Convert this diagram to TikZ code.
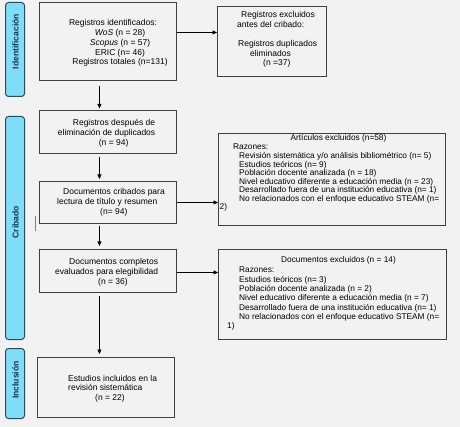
\documentclass[tikz,border=0pt]{standalone}
\usepackage{fontspec}
\setmainfont{Liberation Sans}
\usetikzlibrary{arrows.meta}
\definecolor{bg}{HTML}{F2F2F2}
\definecolor{barfill}{HTML}{80DDF8}
\definecolor{barline}{HTML}{2F4A5A}
\definecolor{bartext}{HTML}{1B3550}
\definecolor{boxline}{HTML}{404040}
\newcommand{\lft}[1]{\begin{tabular}[t]{@{}l@{}}#1\end{tabular}}
\newcommand{\ctr}[1]{\begin{tabular}[t]{@{}c@{}}#1\end{tabular}}
\begin{document}
\begin{tikzpicture}[x=1pt,y=-1pt,
  box/.style={draw=boxline,line width=0.9pt,fill=bg,inner sep=0pt,anchor=north west},
  bar/.style={draw=barline,line width=1pt,fill=barfill,rounded corners=3pt,inner sep=0pt,anchor=north west,minimum width=19pt},
  barlabel/.style={font=\fontsize{8.6}{10}\selectfont\bfseries,text=bartext,rotate=90,inner sep=0pt},
  ltxt/.style={font=\fontsize{8.5}{9.7}\selectfont,inner sep=0pt},
  rtxt/.style={font=\fontsize{8.3}{8.05}\selectfont,inner sep=0pt},
  rtxtb/.style={font=\fontsize{8.3}{9.3}\selectfont,inner sep=0pt},
  arr/.style={line width=0.8pt,-{Triangle[length=4.5pt,width=4pt]}}]
\path[use as bounding box,fill=bg] (0,0) rectangle (460,427);

% side bars
\node[bar,minimum height=94pt] (s1) at (5,2) {};
\node[barlabel] (l1) at (15.5,41.5) {Identificación};
\node[bar,minimum height=223pt] (s2) at (5,116) {};
\node[barlabel] (l2) at (15.5,222) {Cribado};
\node[bar,minimum height=70pt] (s3) at (5,348) {};
\node[barlabel] (l3) at (15.5,380) {Inclusión};

% stray mark
\coordinate (m1) at (35,216);
\coordinate (m2) at (35,231);
\draw[gray,line width=0.8pt] (m1) -- (m2);

% left boxes
\node[box,minimum width=137pt,minimum height=78pt] (b1) at (39,2) {};
\node[ltxt,anchor=base] (t1) at (120,26) {\ctr{Registros identificados:\kern14pt\\ \textit{WoS} (n = 28)\\ \textit{Scopus} (n = 57)\\ ERIC (n= 46)\\ Registros totales (n=131)}};

\node[box,minimum width=109pt,minimum height=70pt] (b2) at (217,6) {};
\node[ltxt,anchor=base west] (t2) at (237,18) {\renewcommand{\arraystretch}{0.98}\lft{\hspace{4pt}Registros excluidos\\ antes del cribado:\\ \\ \hspace{1pt}Registros duplicados\\ \hspace{13pt}eliminados\\ \hspace{26pt}(n =37)}};

\node[box,minimum width=137pt,minimum height=43pt] (b3) at (39,110) {};
\node[ltxt,anchor=base west] (t3) at (57.7,126) {\lft{\hspace{15pt}Registros después de\\ eliminación de duplicados\\ \hspace{41pt}(n = 94)}};

\node[box,minimum width=137pt,minimum height=42pt] (b4) at (39,181) {};
\node[ltxt,anchor=base west] (t4) at (57,195) {\renewcommand{\arraystretch}{1.03}\lft{\hspace{6pt}Documentos cribados para\\ lectura de título y resumen\\ \hspace{43pt}(n= 94)}};

\node[box,minimum width=137pt,minimum height=43pt] (b5) at (39,249) {};
\node[ltxt,anchor=base west] (t5) at (55,265) {\renewcommand{\arraystretch}{1.03}\lft{\hspace{14pt}Documentos completos\\ evaluados para elegibilidad\\ \hspace{43pt}(n = 36)}};

\node[box,minimum width=137pt,minimum height=60pt] (b6) at (37,357) {};
\node[ltxt,anchor=base west] (t6) at (68,381) {\renewcommand{\arraystretch}{0.98}\lft{Estudios incluidos en la\\ revisión sistemática\\ \hspace{27pt}(n = 22)}};

% right boxes
\node[box,minimum width=227pt,minimum height=92pt] (ea) at (218,133) {};
\node[rtxt,anchor=base] (eat) at (338.5,141) {Artículos excluidos (n=58)};
\node[rtxt,anchor=base west] (eab) at (219.5,150) {\lft{\hspace{13.5pt}Razones:\\
\hspace{19.5pt}Revisión sistemática y/o análisis bibliométrico (n= 5)\\
\hspace{19.5pt}Estudios teóricos (n= 9)\\
\hspace{19.5pt}Población docente analizada (n = 18)\\
\hspace{19.5pt}Nivel educativo diferente a educación media (n = 23)\\
\hspace{19.5pt}Desarrollado fuera de una institución educativa (n= 1)\\
\hspace{19.5pt}No relacionados con el enfoque educativo STEAM (n=\\
2)}};

\node[box,minimum width=228pt,minimum height=90pt] (eb) at (218,249) {};
\node[rtxt,anchor=base] (ebt) at (338.5,263) {Documentos excluidos (n = 14)};
\node[rtxtb,anchor=base west] (ebb) at (227,273) {\lft{\hspace{12pt}Razones:\\
\hspace{12pt}Estudios teóricos (n= 3)\\
\hspace{12pt}Población docente analizada (n = 2)\\
\hspace{12pt}Nivel educativo diferente a educación media (n = 7)\\
\hspace{12pt}Desarrollado fuera de una institución educativa (n= 1)\\
\hspace{12pt}No relacionados con el enfoque educativo STEAM (n=\\
1)}};

% arrows
\draw[arr] ([yshift=9pt]b1.east) -- ([yshift=9pt]b2.west);
\draw[arr,shorten <=5pt,shorten >=1.5pt] ([xshift=-8.5pt]b1.south) -- ([xshift=-8.5pt]b3.north);
\draw[arr,shorten <=3pt,shorten >=2pt] ([xshift=-8.5pt]b3.south) -- ([xshift=-8.5pt]b4.north);
\draw[arr,shorten <=2pt,shorten >=3pt] ([xshift=-8.5pt]b4.south) -- ([xshift=-8.5pt]b5.north);
\draw[arr,shorten <=3pt,shorten >=3pt] ([xshift=-8.5pt]b5.south) -- ([xshift=-6.5pt]b6.north);
\draw[arr] (b4.east) -- (b4.east -| ea.west);
\draw[arr] ([yshift=-1.5pt]b5.east) -- ([yshift=-1.5pt]b5.east -| eb.west);
\end{tikzpicture}
\end{document}
